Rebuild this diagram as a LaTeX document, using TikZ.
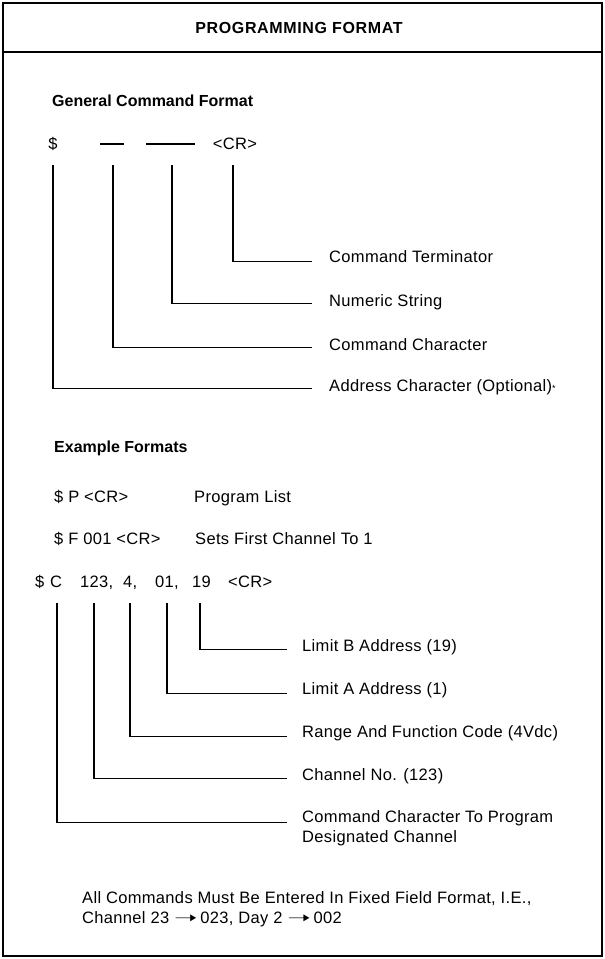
\documentclass[tikz,border=0pt]{standalone}
\usepackage{graphicx}
\usepackage{fontspec}
\setmainfont{Liberation Sans}
\newfontfamily\bodyfont[LetterSpace=2]{Liberation Sans}
\newfontfamily\titlefont[LetterSpace=4]{Liberation Sans}
\newfontfamily\arrowfont{DejaVu Sans}
\newcommand{\fldarrow}{{\arrowfont\scalebox{1.7}[1]{➝}}}
\begin{document}
\begin{tikzpicture}[x=1pt,y=-1pt,
  txt/.style={anchor=base west, inner sep=0pt, font=\fontsize{16.5}{20}\bodyfont},
  hd/.style={anchor=base west, inner sep=0pt, font=\fontsize{16}{20}\selectfont\bfseries},
  conn/.style={line width=1.2pt, black},
  blank/.style={line width=1.6pt, black},
  frame/.style={line width=1.5pt, black}]
\useasboundingbox (0,0) rectangle (605,959);
% frame
\draw[frame] (3,3) rectangle (602,956);
\draw[frame] (3,52) -- (602,52);
\node[anchor=base, inner sep=0pt, font=\fontsize{16}{20}\titlefont\bfseries] (title) at (299,33.5) {PROGRAMMING FORMAT};

% General command format
\node[hd] (gen) at (52,106) {General Command Format};
\node[txt, anchor=base] (gdol) at (53,149) {\$};
\coordinate (sdA) at (100,144); \coordinate (sdB) at (124,144);
\coordinate (ldA) at (146,144); \coordinate (ldB) at (195,144);
\draw[blank] (sdA) -- (sdB);
\draw[blank] (ldA) -- (ldB);
\node[txt, anchor=base] (gcr) at (235,149) {<CR>};

\coordinate (g1) at (53,165);
\coordinate (g2) at (113,165);
\coordinate (g3) at (172,165);
\coordinate (g4) at (233,165);

\node[txt] (lT) at (329,262.7) {Command Terminator};
\node[txt] (lN) at (329,306) {Numeric String};
\node[txt] (lC) at (329,350) {Command Character};
\node[txt] (lA) at (329,391) {Address Character (Optional){\fontsize{9}{9}\selectfont *}};

\draw[conn] (g4) |- ([xshift=-17pt,yshift=1.5pt]lT.base west);
\draw[conn] (g3) |- ([xshift=-17pt,yshift=2.5pt]lN.base west);
\draw[conn] (g2) |- ([xshift=-17pt,yshift=2.5pt]lC.base west);
\draw[conn] (g1) |- ([xshift=-17pt,yshift=2.5pt]lA.base west);

% Example formats
\node[hd] (ex) at (54,452.7) {Example Formats};
\node[txt] (e1) at (54,502) {\$ P <CR>};
\node[txt] (e1d) at (194,502) {Program List};
\node[txt] (e2) at (54,544) {\$ F 001 <CR>};
\node[txt] (e2d) at (195,544) {Sets First Channel To 1};

\node[txt] (tdol) at (35,587) {\$};
\node[txt] (tC) at (50,587) {C};
\node[txt] (t123) at (80,587) {123,};
\node[txt] (t4) at (123,587) {4,};
\node[txt] (t01) at (155,587) {01,};
\node[txt] (t19) at (192,587) {19};
\node[txt] (tcr) at (228,587) {<CR>};

\coordinate (e1v) at (57,603);
\coordinate (e2v) at (94,603);
\coordinate (e3v) at (130,603);
\coordinate (e4v) at (167,603);
\coordinate (e5v) at (200,603);

\node[txt] (lLB) at (302,651.7) {Limit B Address (19)};
\node[txt] (lLA) at (302,694.3) {Limit A Address (1)};
\node[txt] (lRF) at (302,737) {Range And Function Code (4Vdc)};
\node[txt] (lCN) at (302,780) {Channel No. (123)};
\node[txt] (lCC) at (302,822) {Command Character To Program};
\node[txt] (lCC2) at (302,842.7) {Designated Channel};

\draw[conn] (e5v) |- ([xshift=-15pt,yshift=2.5pt]lLB.base west);
\draw[conn] (e4v) |- ([xshift=-15pt,yshift=1pt]lLA.base west);
\draw[conn] (e3v) |- ([xshift=-15pt,yshift=0.5pt]lRF.base west);
\draw[conn] (e2v) |- ([xshift=-15pt,yshift=1.5pt]lCN.base west);
\draw[conn] (e1v) |- ([xshift=-15pt,yshift=-0.7pt]lCC.base west);

% footer
\node[txt] (f1) at (82,903.3) {All Commands Must Be Entered In Fixed Field Format, I.E.,};
\node[txt] (f2) at (82,923.3) {Channel 23 \fldarrow\,023, Day 2 \fldarrow\,002};
\end{tikzpicture}
\end{document}
